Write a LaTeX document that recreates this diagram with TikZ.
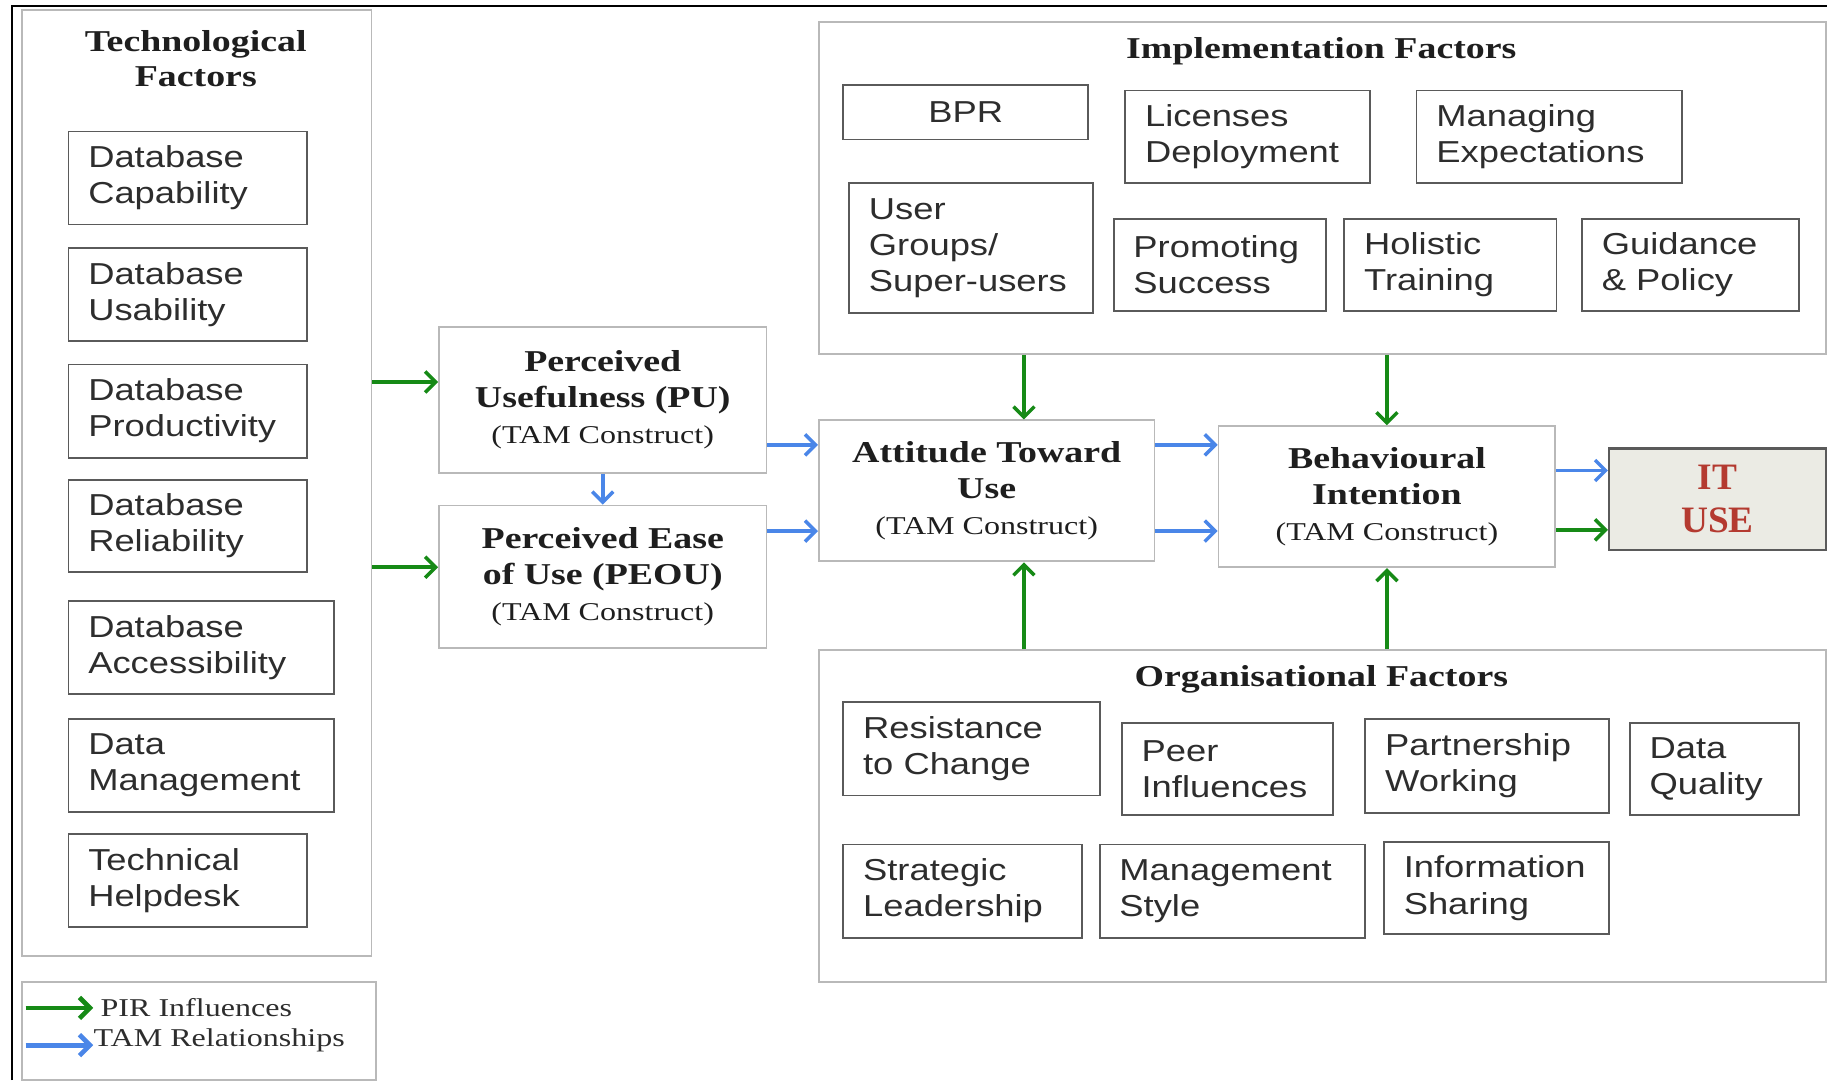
\documentclass[tikz,border=0pt]{standalone}
\usepackage{fontspec}
\setmainfont{Liberation Serif}
\newfontfamily\sansf[FakeStretch=1.2]{Liberation Sans}
\newfontfamily\seriff[FakeStretch=1.25]{Liberation Serif}
\usetikzlibrary{arrows.meta}
\definecolor{gcol}{RGB}{22,138,22}
\definecolor{bcol}{RGB}{74,134,232}
\definecolor{cgray}{RGB}{185,185,185}
\definecolor{bgray}{RGB}{90,90,90}
\definecolor{tcol}{RGB}{45,45,45}
\definecolor{hcol}{RGB}{30,30,30}
\definecolor{itfill}{RGB}{235,235,228}
\definecolor{itred}{RGB}{180,58,48}
\tikzset{
 container/.style={draw=cgray, line width=0.8pt, anchor=north west, inner sep=0pt},
 factor/.style={draw=bgray, line width=0.75pt, anchor=north west, inner xsep=8.5pt, inner ysep=0pt,
   align=left, font=\sansf\fontsize{13}{15.5}\selectfont, text=tcol,
   execute at begin node={\hyphenpenalty=10000\exhyphenpenalty=10000}},
 tam/.style={draw=cgray, line width=0.8pt, anchor=north west, inner sep=0pt, align=center,
   font=\seriff\bfseries\fontsize{13}{15.5}\selectfont, text=hcol},
 title/.style={font=\seriff\bfseries\fontsize{13}{15}\selectfont, text=hcol, align=center, inner sep=0pt},
 legt/.style={font=\seriff\fontsize{11}{13}\selectfont, text=tcol, anchor=west, inner sep=0pt},
 garrow/.style={draw=gcol, line width=1.5pt, -{Straight Barb[length=4.5pt,width=9pt]}},
 barrow/.style={draw=bcol, line width=1.5pt, -{Straight Barb[length=4.5pt,width=9pt]}},
}
\newcommand\tamc{{\seriff\mdseries\fontsize{11}{15.5}\selectfont (TAM Construct)}}
\begin{document}
\begin{tikzpicture}[x=0.5pt,y=-0.5pt]
\useasboundingbox (0,0) rectangle (1568,927);
% outer frame lines
\coordinate (fa) at (10,5); \coordinate (fb) at (1568,5); \coordinate (fc) at (10,927);
\draw[black, line width=0.8pt] (fc) -- (fa) -- (fb);

% Technological factors
\node[container, minimum width=150pt, minimum height=406pt] (tech) at (18,8) {};
\node[title] (techt) at (168,50) {Technological\\Factors};
\node[factor, text width=85.5pt, minimum height=40pt] (t1) at (58,112) {Database\\Capability};
\node[factor, text width=85.5pt, minimum height=40pt] (t2) at (58,212) {Database\\Usability};
\node[factor, text width=85.5pt, minimum height=40pt] (t3) at (58,312) {Database\\Productivity};
\node[factor, text width=85.5pt, minimum height=39.5pt] (t4) at (58,411) {Database\\Reliability};
\node[factor, text width=97pt, minimum height=40pt] (t5) at (58,515) {Database\\Accessibility};
\node[factor, text width=97pt, minimum height=40pt] (t6) at (58,616) {Data\\Management};
\node[factor, text width=85.5pt, minimum height=40pt] (t7) at (58,715) {Technical\\Helpdesk};

% Legend
\node[container, minimum width=152pt, minimum height=42pt] (leg) at (18,842) {};
\node[legt] (lt1) at (86,865) {PIR Influences};
\node[legt] (lt2) at (80,893) {TAM Relationships};
\coordinate (lg1) at (22,865); \coordinate (lg1e) at (80,865);
\coordinate (lg2) at (22,897); \coordinate (lg2e) at (80,897);
\draw[garrow, line width=2pt] (lg1) -- (lg1e);
\draw[barrow, line width=2pt] (lg2) -- (lg2e);

% Implementation factors
\node[container, minimum width=432pt, minimum height=142.5pt] (impl) at (702,18) {};
\node[title] (implt) at (1134,44) {Implementation Factors};
\node[factor, align=center, text width=88pt, minimum height=23.5pt] (i1) at (723,72) {BPR};
\node[factor, text width=88pt, minimum height=39.5pt] (i2) at (965,77) {Licenses\\Deployment};
\node[factor, text width=97pt, minimum height=39.5pt] (i3) at (1215,77) {Managing\\Expectations};
\node[factor, text width=87.5pt, minimum height=56pt] (i4) at (728,156) {User\\Groups/\\Super-users};
\node[factor, text width=74pt, minimum height=39.5pt] (i5) at (955,187) {Promoting\\Success};
\node[factor, text width=74pt, minimum height=39.5pt] (i6) at (1153,187) {Holistic\\Training};
\node[factor, text width=76pt, minimum height=39.5pt] (i7) at (1357,187) {Guidance\\\& Policy};

% Organisational factors
\node[container, minimum width=432pt, minimum height=142.5pt] (org) at (702,557) {};
\node[title] (orgt) at (1134,583) {Organisational Factors};
\node[factor, text width=93pt, minimum height=40pt] (o1) at (723,602) {Resistance\\to Change};
\node[factor, text width=73.5pt, minimum height=39.5pt] (o2) at (962,620) {Peer\\Influences};
\node[factor, text width=87.5pt, minimum height=40.5pt] (o3) at (1171,616) {Partnership\\Working};
\node[factor, text width=55.5pt, minimum height=39.5pt] (o4) at (1398,620) {Data\\Quality};
\node[factor, text width=85.5pt, minimum height=40pt] (o5) at (723,724) {Strategic\\Leadership};
\node[factor, text width=97pt, minimum height=40pt] (o6) at (943,724) {Management\\Style};
\node[factor, text width=79.5pt, minimum height=39.5pt] (o7) at (1187,722) {Information\\Sharing};

% TAM constructs
\node[tam, minimum width=140.5pt, minimum height=62.5pt] (pu) at (376,280) {Perceived\\Usefulness (PU)\\\tamc};
\node[tam, minimum width=140.5pt, minimum height=61pt] (peou) at (376,433) {Perceived Ease\\of Use (PEOU)\\\tamc};
\node[tam, minimum width=144pt, minimum height=60.5pt] (atu) at (702,360) {Attitude Toward\\Use\\\tamc};
\node[tam, minimum width=144.5pt, minimum height=60.5pt] (bi) at (1045,365) {Behavioural\\Intention\\\tamc};
\node[draw=bgray, fill=itfill, line width=1pt, anchor=north west, inner sep=0pt, align=center,
      minimum width=93pt, minimum height=43.5pt, text=itred,
      font=\bfseries\fontsize{16}{18.5}\selectfont] (it) at (1380,384) {IT\\USE};

% green arrows (PIR influences)
\coordinate (puin) at ([yshift=7.75pt]pu.west);
\draw[garrow] (puin -| tech.east) -- (puin);
\coordinate (peouin) at ([yshift=4pt]peou.west);
\draw[garrow] (peouin -| tech.east) -- (peouin);
\coordinate (atop) at ([xshift=16pt]atu.north);
\draw[garrow] (atop |- impl.south) -- (atop);
\draw[garrow] (bi.north |- impl.south) -- (bi.north);
\coordinate (abot) at ([xshift=16pt]atu.south);
\draw[garrow] (abot |- org.north) -- (abot);
\draw[garrow] (bi.south |- org.north) -- (bi.south);
\coordinate (big) at ([yshift=-14.25pt]bi.east);
\draw[garrow] (big) -- (big -| it.west);

% blue arrows (TAM relationships)
\draw[barrow] (pu.south) -- (peou.north);
\coordinate (pa) at ([yshift=19.75pt]atu.west);
\draw[barrow] (pa -| pu.east) -- (pa);
\coordinate (pea) at ([yshift=-17.25pt]atu.west);
\draw[barrow] (pea -| peou.east) -- (pea);
\coordinate (ab1) at ([yshift=22.25pt]bi.west);
\draw[barrow] (ab1 -| atu.east) -- (ab1);
\coordinate (ab2) at ([yshift=-14.75pt]bi.west);
\draw[barrow] (ab2 -| atu.east) -- (ab2);
\coordinate (bit) at ([yshift=11.25pt]bi.east);
\draw[barrow] (bit) -- (bit -| it.west);
\end{tikzpicture}
\end{document}
